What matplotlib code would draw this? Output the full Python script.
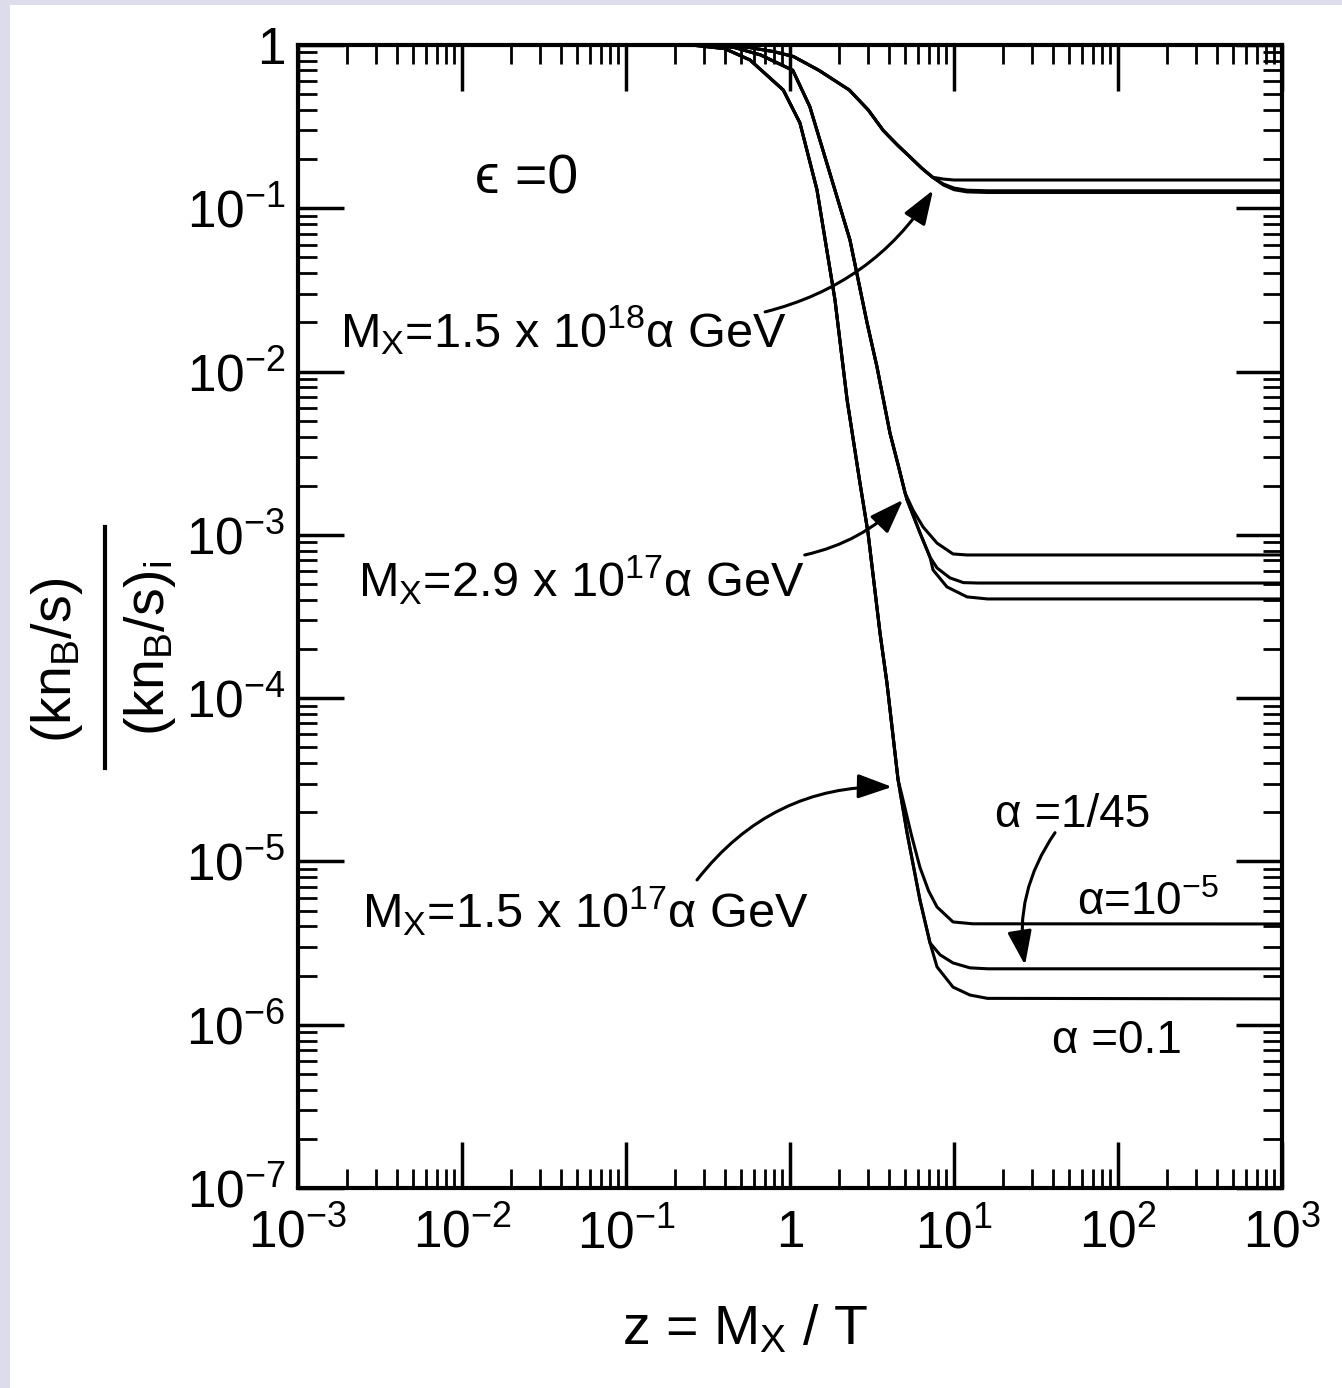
import numpy as np
import matplotlib.pyplot as plt
from matplotlib.patches import Rectangle
from matplotlib.lines import Line2D
from matplotlib.ticker import LogLocator, NullFormatter

plt.rcParams['font.family'] = ['Liberation Sans', 'DejaVu Sans']
plt.rcParams['mathtext.fontset'] = 'custom'
plt.rcParams['mathtext.rm'] = 'Liberation Sans'
plt.rcParams['mathtext.it'] = 'Liberation Sans:italic'
plt.rcParams['mathtext.default'] = 'rm'

# ---- data: (k n_B / s) relative to initial value vs z = M_X / T ----
# M_X = 1.5e18 alpha GeV
z_hi = [1e-3, 0.3, 0.55, 0.8, 1.05, 1.5, 2.3, 3.0, 3.7, 4.5, 5.4, 6.4, 7.4]
y_hi = [1, 1, 0.97, 0.91, 0.85, 0.70, 0.53, 0.40, 0.30, 0.245, 0.206, 0.175, 0.155]
z_hi_a5 = [8.6, 10, 14, 1000]
y_hi_a5 = [0.151, 0.149, 0.149, 0.149]
z_hi_a45 = [8.6, 10, 12, 16, 1000]
y_hi_a45 = [0.141, 0.133, 0.129, 0.128, 0.128]
z_hi_a01 = [8.6, 10, 12, 16, 1000]
y_hi_a01 = [0.139, 0.130, 0.126, 0.125, 0.125]

# M_X = 2.9e17 alpha GeV
z_mid = [1e-3, 0.25, 0.45, 0.66, 1.04, 1.32, 1.75, 2.32, 2.95, 3.39, 4.07, 4.6, 5.03]
y_mid = [1, 1, 0.97, 0.87, 0.70, 0.42, 0.164, 0.064, 0.0199, 0.0107, 4.2e-3, 2.6e-3, 1.81e-3]
z_mid_a5 = [5.62, 6.47, 7.88, 9.86, 12, 1000]
y_mid_a5 = [1.42e-3, 1.12e-3, 8.9e-4, 7.64e-4, 7.53e-4, 7.53e-4]
z_mid_low = [5.17, 6.2, 7.14]
y_mid_low = [1.64e-3, 1.03e-3, 7.3e-4]
z_mid_a45 = [7.88, 9.45, 11.4, 14, 1000]
y_mid_a45 = [6.27e-4, 5.45e-4, 5.1e-4, 5.07e-4, 5.07e-4]
z_mid_a01 = [7.45, 9.06, 12, 16, 1000]
y_mid_a01 = [6.1e-4, 4.8e-4, 4.17e-4, 4.05e-4, 4.05e-4]

# M_X = 1.5e17 alpha GeV
z_lo = [1e-3, 0.25, 0.4, 0.57, 0.91, 1.15, 1.46, 1.88, 2.23, 2.67, 2.99, 3.54, 3.9, 4.56]
y_lo = [1, 1, 0.95, 0.81, 0.53, 0.333, 0.13, 0.0275, 6.7e-3, 2.08e-3, 1.03e-3, 2.5e-4, 1.24e-4, 3.16e-5]
z_lo_a5 = [4.89, 5.5, 6.2, 7.0, 7.88, 9.86, 13, 1000]
y_lo_a5 = [2.38e-5, 1.45e-5, 9.2e-6, 6.6e-6, 5.26e-6, 4.26e-6, 4.15e-6, 4.14e-6]
z_lo_low = [5.17, 6.2, 7.14]
y_lo_low = [1.5e-5, 5.8e-6, 3.17e-6]
z_lo_a45 = [8.22, 9.86, 12.5, 16, 1000]
y_lo_a45 = [2.68e-6, 2.39e-6, 2.23e-6, 2.2e-6, 2.2e-6]
z_lo_a01 = [7.88, 9.86, 12.5, 16, 1000]
y_lo_a01 = [2.26e-6, 1.7e-6, 1.52e-6, 1.45e-6, 1.44e-6]

xticks = [1e-3, 1e-2, 1e-1, 1, 1e1, 1e2, 1e3]
xticklabels = [r'$10^{-3}$', r'$10^{-2}$', r'$10^{-1}$', '1', r'$10^{1}$', r'$10^{2}$', r'$10^{3}$']
yticks = [1e-7, 1e-6, 1e-5, 1e-4, 1e-3, 1e-2, 1e-1, 1]
yticklabels = [r'$10^{-7}$', r'$10^{-6}$', r'$10^{-5}$', r'$10^{-4}$',
               r'$10^{-3}$', r'$10^{-2}$', r'$10^{-1}$', '1']

W, H = 1342, 1388
fig = plt.figure(figsize=(W / 100, H / 100), dpi=100)
fig.patch.set_facecolor('#dcdcea')
fig.add_artist(Rectangle((10 / W, 0), 1, 1 - 5 / H, transform=fig.transFigure,
                         facecolor='white', edgecolor='none', zorder=-5))

ax = fig.add_axes([298 / W, 1 - 1188 / H, 984 / W, 1143 / H])
ax.set_xscale('log')
ax.set_yscale('log')
ax.set_xlim(1e-3, 1e3)
ax.set_ylim(1e-7, 1)


def curve(zs, ys):
    ax.plot(zs, ys, color='black', lw=2.2, solid_capstyle='round',
            solid_joinstyle='round')


# three alpha values per mass: 1e-5 (upper), 1/45, 0.1 (lower)
curve(z_hi + z_hi_a5, y_hi + y_hi_a5)
curve(z_hi + z_hi_a45, y_hi + y_hi_a45)
curve(z_hi + z_hi_a01, y_hi + y_hi_a01)

curve(z_mid + z_mid_a5, y_mid + y_mid_a5)
curve(z_mid + z_mid_low + z_mid_a45, y_mid + y_mid_low + y_mid_a45)
curve(z_mid + z_mid_low + z_mid_a01, y_mid + y_mid_low + y_mid_a01)

curve(z_lo + z_lo_a5, y_lo + y_lo_a5)
curve(z_lo + z_lo_low + z_lo_a45, y_lo + y_lo_low + y_lo_a45)
curve(z_lo + z_lo_low + z_lo_a01, y_lo + y_lo_low + y_lo_a01)

# axes and ticks
for sp in ax.spines.values():
    sp.set_linewidth(3)
ax.set_xticks(xticks)
ax.set_xticklabels(xticklabels)
ax.set_yticks(yticks)
ax.set_yticklabels(yticklabels)
ax.xaxis.set_minor_locator(LogLocator(base=10, subs=np.arange(2, 10), numticks=30))
ax.yaxis.set_minor_locator(LogLocator(base=10, subs=np.arange(2, 10), numticks=30))
ax.xaxis.set_minor_formatter(NullFormatter())
ax.yaxis.set_minor_formatter(NullFormatter())
ax.tick_params(which='both', direction='in', top=True, right=True, color='black')
ax.tick_params(which='major', length=33, width=2.5, labelsize=37, pad=9)
ax.tick_params(axis='x', which='major', pad=15)
ax.tick_params(which='minor', length=14, width=2)

# annotations
txt = dict(color='black', fontsize=35)
ax.text(0.012, 0.124, 'ϵ =0', ha='left', va='baseline', fontsize=40)
ax.text(1.8e-3, 0.0141, r'M$_X$=1.5 x 10$^{18}$α GeV', ha='left', va='baseline', **txt)
ax.text(2.32e-3, 4.17e-4, r'M$_X$=2.9 x 10$^{17}$α GeV', ha='left', va='baseline', **txt)
ax.text(2.46e-3, 3.92e-6, r'M$_X$=1.5 x 10$^{17}$α GeV', ha='left', va='baseline', **txt)

small = dict(color='black', fontsize=33)
ax.text(17.8, 1.63e-5, 'α =1/45', ha='left', va='baseline', **small)
ax.text(56.0, 4.7e-6, r'α=10$^{-5}$', ha='left', va='baseline', **small)
ax.text(39.6, 6.7e-7, 'α =0.1', ha='left', va='baseline', **small)

arrow = dict(arrowstyle='-|>,head_length=0.7,head_width=0.25', color='black',
             lw=2.2, mutation_scale=30, shrinkA=0, shrinkB=0)
ax.annotate('', xy=(7.45, 0.129), xytext=(0.705, 0.0232),
            arrowprops=dict(connectionstyle='arc3,rad=0.2', **arrow))
ax.annotate('', xy=(4.89, 1.64e-3), xytext=(1.23, 7.53e-4),
            arrowprops=dict(connectionstyle='arc3,rad=0.15', **arrow))
ax.annotate('', xy=(4.19, 2.86e-5), xytext=(0.271, 7.7e-6),
            arrowprops=dict(connectionstyle='arc3,rad=-0.25', **arrow))
ax.annotate('', xy=(27.1, 2.32e-6), xytext=(41.3, 1.5e-5),
            arrowprops=dict(connectionstyle='arc3,rad=0.2', **arrow))

# axis labels
fig.text(745 / W, 1 - 1330 / H, r'z = M$_X$ / T', ha='center', va='center', fontsize=40)
fig.text(57 / W, 1 - 660 / H, r'(kn$_B$/s)', rotation=90, ha='center', va='center', fontsize=40)
fig.text(150 / W, 1 - 648 / H, r'(kn$_B$/s)$_i$', rotation=90, ha='center', va='center', fontsize=40)
fig.add_artist(Line2D([105 / W, 105 / W], [1 - 527 / H, 1 - 768 / H],
                      transform=fig.transFigure, color='black', lw=3))

fig.savefig('out.png', dpi=100, facecolor=fig.get_facecolor())
